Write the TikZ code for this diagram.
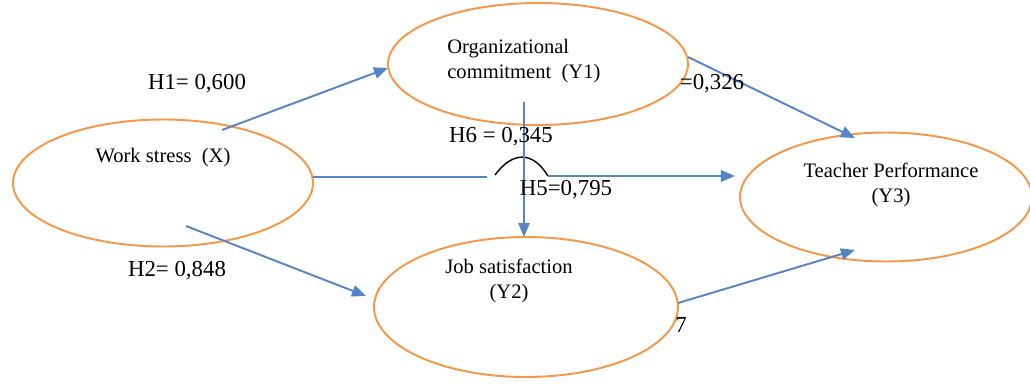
\documentclass[tikz,border=0pt]{standalone}
\usepackage{fontspec}
\setmainfont{Liberation Serif}
\usetikzlibrary{shapes.geometric,arrows.meta}
\definecolor{orangeline}{HTML}{F79646}
\definecolor{blueline}{HTML}{5585C8}

\begin{document}
\begin{tikzpicture}[x=0.02cm,y=-0.02cm]
    \providecommand{\namefontsize}{\fontsize{11.7pt}{14.5pt}\selectfont}
    \providecommand{\labelfontsize}{\fontsize{13pt}{15pt}\selectfont}
    \tikzset{
        latent/.style={ellipse,draw=orangeline,line width=1.1pt,inner sep=0},
        pathline/.style={draw=blueline,line width=1.1pt,-{Triangle[length=8pt,width=6.5pt]}},
        coef/.style={font=\labelfontsize,inner sep=0},
        latenttext/.style={font=\namefontsize,inner sep=0,align=center}
    }
    \useasboundingbox (0,0) rectangle (1030,385);
    % constructs
    \node[latent,minimum width=6cm,minimum height=2.54cm] (x) at (163,183) {};
    \node[latent,minimum width=6cm,minimum height=2.44cm] (y1) at (538,64) {};
    \node[latent,minimum width=6.08cm,minimum height=2.8cm] (y2) at (526,307) {};
    \node[latent,minimum width=5.84cm,minimum height=2.58cm] (y3) at (886,197) {};
    \node[latenttext] (xtext) at (163,158) {Work stress\ \ (X)};
    \node[latenttext,align=left,anchor=west] (y1text) at (447,61) {Organizational\\commitment\ \ (Y1)};
    \node[latenttext] (y2text) at (509,281) {Job satisfaction\\(Y2)};
    \node[latenttext] (y3text) at (891,185) {Teacher Performance\\(Y3)};
    % path ends
    \coordinate (h1s) at (222,130);
    \coordinate (h1e) at (388,68);
    \coordinate (h2s) at (186,226);
    \coordinate (h2e) at (366,296);
    \coordinate (h3s) at (688,57);
    \coordinate (h3e) at (855,138);
    \coordinate (h4s) at (678,303);
    \coordinate (h4e) at (855,250);
    \coordinate (h5s) at (313,177);
    \coordinate (h5a) at (487,177);
    \coordinate (hopa) at (495,175);
    \coordinate (hopb) at (548,176);
    \coordinate (h5e) at (735,176);
    \coordinate (h6s) at (524,102);
    \coordinate (h6e) at (524,237);
    % paths
    \draw[pathline] (h1s) -- (h1e);
    \draw[pathline] (h2s) -- (h2e);
    \draw[pathline] (h3s) -- (h3e);
    \draw[pathline] (h4s) -- (h4e);
    \draw[blueline,line width=0.6pt] (h5s) -- (h5a);
    \draw[line width=0.8pt] (hopa) .. controls (512,152) and (532,150) .. (hopb);
    \draw[pathline] (hopb) -- (h5e);
    \draw[pathline] (h6s) -- (h6e);
    % coefficients
    \node[coef] (h1) at (197,84) {H1= 0,600};
    \node[coef] (h2) at (177,271) {H2= 0,848};
    \node[coef] (h3) at (712,84) {=0,326};
    \node[coef] (h4) at (681,325) {7};
    \node[coef] (h5) at (566,190) {H5=0,795};
    \node[coef] (h6) at (501,137) {H6 = 0,345};
\end{tikzpicture}
\end{document}
